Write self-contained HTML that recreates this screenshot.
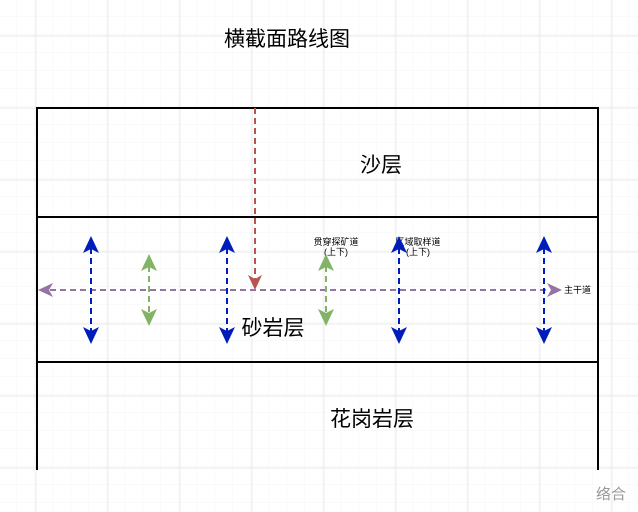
<!DOCTYPE html>
<html><head><meta charset="utf-8"><style>
body{margin:0;background:#fff}
svg{display:block}
text{font-family:"Liberation Sans","Noto Sans CJK SC",sans-serif}
</style></head><body>
<svg width="638" height="512" xmlns="http://www.w3.org/2000/svg">
<defs>
<pattern id="mi" width="18" height="18" patternUnits="userSpaceOnUse" x="-1" y="-1">
<path d="M18 0V18M0 18H18" fill="none" stroke="#f5f5f5" stroke-width="1"/>
</pattern>
<pattern id="ma" width="72" height="72" patternUnits="userSpaceOnUse" x="35.5" y="35.5">
<path d="M0.5 0V72M0 0.5H72" fill="none" stroke="#e8e8e8" stroke-width="1"/>
</pattern>
<g id="b" fill="#001dbc">
<path d="M0 248V332" stroke="#001dbc" stroke-width="2" stroke-dasharray="6 4"/>
<path d="M0 236l-8 17 8-4 8 4z"/>
<path d="M0 344l-8-17 8 4 8-4z"/>
</g>
<g id="g" fill="#82b366">
<path d="M0 266V314" stroke="#82b366" stroke-width="2" stroke-dasharray="6 4"/>
<path d="M0 254l-8 17 8-4 8 4z"/>
<path d="M0 326l-8-17 8 4 8-4z"/>
</g>
</defs>
<rect width="638" height="512" fill="url(#mi)"/>
<rect width="638" height="512" fill="url(#ma)"/>
<g stroke="#000" stroke-width="2" fill="none">
<path d="M37 470V108H598V470"/>
<path d="M37 217H598M37 362H598"/>
</g>
<text x="287" y="46" font-size="21" text-anchor="middle" fill="#000">横截面路线图</text>
<text x="381" y="172" font-size="21" text-anchor="middle">沙层</text>
<text x="273" y="335" font-size="21" text-anchor="middle">砂岩层</text>
<text x="372" y="426" font-size="21" text-anchor="middle">花岗岩层</text>
<text x="611" y="499" font-size="15" text-anchor="middle" fill="#999">络合</text>
<text x="336" y="245" font-size="9" text-anchor="middle">贯穿探矿道</text>
<text x="336" y="255" font-size="9" text-anchor="middle">(上下)</text>
<text x="418" y="245" font-size="9" text-anchor="middle">区域取样道</text>
<text x="418" y="255" font-size="9" text-anchor="middle">(上下)</text>
<text x="564" y="293" font-size="9">主干道</text>
<path d="M50 290H550" stroke="#9673a6" stroke-width="2" stroke-dasharray="6 4"/>
<path d="M38 290l15-7-4 7 4 7z" fill="#9673a6"/>
<path d="M562 290l-15-7 4 7-4 7z" fill="#9673a6"/>
<path d="M255 108V280" stroke="#b85450" stroke-width="2" stroke-dasharray="6 4"/>
<path d="M255 290l-7-15 7 4 7-4z" fill="#b85450"/>
<use href="#b" x="91"/><use href="#b" x="227"/><use href="#b" x="399"/><use href="#b" x="544"/>
<use href="#g" x="149"/><use href="#g" x="326"/>
</svg>
</body></html>
